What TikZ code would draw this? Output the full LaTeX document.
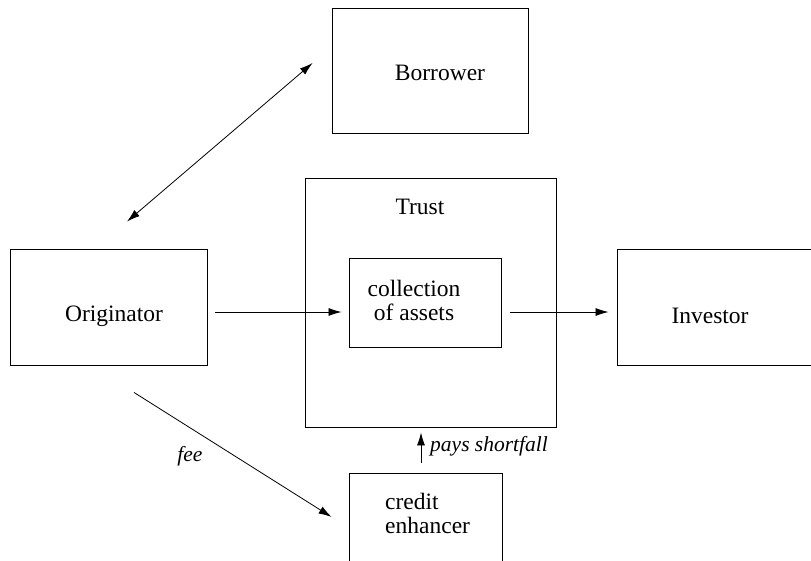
\documentclass[tikz,border=0pt]{standalone}
\usepackage{fontspec}
\setmainfont{Liberation Serif}
\usetikzlibrary{arrows.meta,calc}
\begin{document}
\begin{tikzpicture}[x=1pt,y=-1pt,
  box/.style={draw=black,line width=0.9pt,inner sep=0pt,minimum width=#1},
  lbl/.style={inner sep=0pt,font=\rmfamily\fontsize{23.5}{24}\selectfont},
  ital/.style={inner sep=0pt,font=\rmfamily\fontsize{21.5}{24}\selectfont\itshape},
  tip/.style={Latex[length=13pt,width=8pt]},
  conn/.style={line width=0.8pt,-{Latex[length=13pt,width=8pt]}},
  dconn/.style={line width=0.8pt,{Latex[length=13pt,width=8pt]}-{Latex[length=13pt,width=8pt]}}]
\useasboundingbox[fill=white] (0,0) rectangle (811,560);
% boxes
\node[box=196pt,minimum height=125pt] (borrower) at (430,70.5) {};
\node[box=251pt,minimum height=249pt] (trust) at (430.5,302.5) {};
\node[box=152pt,minimum height=89pt] (coll) at (425,302.5) {};
\node[box=197pt,minimum height=116pt] (orig) at (108.5,307) {};
\node[box=197pt,minimum height=116pt] (inv) at (715.5,307) {};
\node[box=153pt,minimum height=116pt] (credit) at (425.5,531) {};
% labels
\node[lbl] (tborrower) at (440,73) {Borrower};
\node[lbl] (ttrust) at (420,207) {Trust};
\node[lbl,align=center] (tcoll) at (414,300) {collection\\of assets};
\node[lbl] (torig) at (114,316) {Originator};
\node[lbl] (tinv) at (710,316) {Investor};
\node[lbl,align=left,anchor=west] (tcredit) at (385,513) {credit\\enhancer};
\node[ital,anchor=west] (tpays) at (430,446) {pays shortfall};
\node[ital] (tfee) at (190,456) {fee};
% connectors
\draw[dconn] ($(orig.north)+(18.5,-27)$) -- ($(borrower.west)+(-19,-7.5)$);
\draw[conn] ($(orig.east)+(8,5)$) -- ($(coll.west)+(-7,9.5)$);
\draw[conn] ($(coll.east)+(9,9.5)$) -- ($(inv.west)+(-8,5)$);
\draw[conn] ($(orig.south)+(25.5,27)$) -- ($(credit.west)+(-17,-14)$);
\draw[conn] ($(credit.north)+(-4.5,-10)$) -- ($(trust.south)+(-9.5,5)$);
\end{tikzpicture}
\end{document}
